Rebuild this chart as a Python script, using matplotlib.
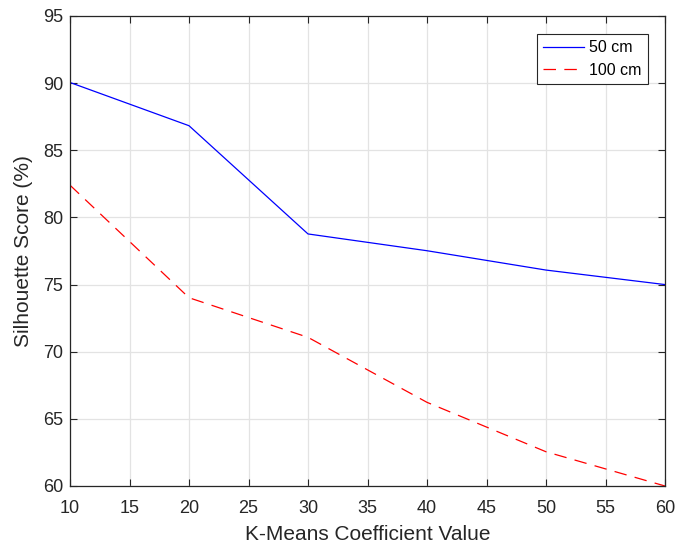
import matplotlib
matplotlib.use("Agg")
import matplotlib.pyplot as plt

plt.rcParams["font.family"] = ["Liberation Sans", "DejaVu Sans"]
plt.rcParams["lines.scale_dashes"] = False

k_values = [10, 20, 30, 40, 50, 60]
score_50cm = [90.05, 86.83, 78.77, 77.52, 76.08, 75.0]
score_100cm = [82.4, 74.02, 71.07, 66.23, 62.55, 60.0]
x_ticks = list(range(10, 61, 5))
y_ticks = list(range(60, 96, 5))

fig = plt.figure(figsize=(6.75, 5.45), dpi=100)
ax = fig.add_axes([70 / 675, 1 - 486 / 545, 595 / 675, 470 / 545])

ax.plot(k_values, score_50cm, color="#0000ff", lw=0.9, label="50 cm")
ax.plot(k_values, score_100cm, color="#ff0000", lw=0.9, dashes=(9, 6), label="100 cm")

ax.set_xlim(10, 60)
ax.set_ylim(60, 95)
ax.set_xticks(x_ticks)
ax.set_yticks(y_ticks)
ax.grid(True, color="#e3e3e3", lw=0.9)
ax.set_axisbelow(True)

ax.tick_params(direction="in", length=5, width=0.8, top=True, right=True,
               labelsize=13, colors="#262626")
ax.tick_params(axis="x", pad=10)
ax.tick_params(axis="y", pad=5)
for s in ax.spines.values():
    s.set_color("#262626")
    s.set_linewidth(0.9)

ax.set_xlabel("K-Means Coefficient Value", fontsize=15, color="#262626", labelpad=6)
ax.set_ylabel("Silhouette Score (%)", fontsize=15, color="#262626", labelpad=7)

leg = ax.legend(loc="upper right", bbox_to_anchor=(0.9714, 0.9617), fontsize=11.5,
                fancybox=False, framealpha=1, edgecolor="#262626",
                handlelength=2.55, handletextpad=0.35, borderpad=0.4,
                labelspacing=0.45, borderaxespad=0)
leg.get_frame().set_linewidth(0.8)

fig.savefig("out.png", dpi=100)
